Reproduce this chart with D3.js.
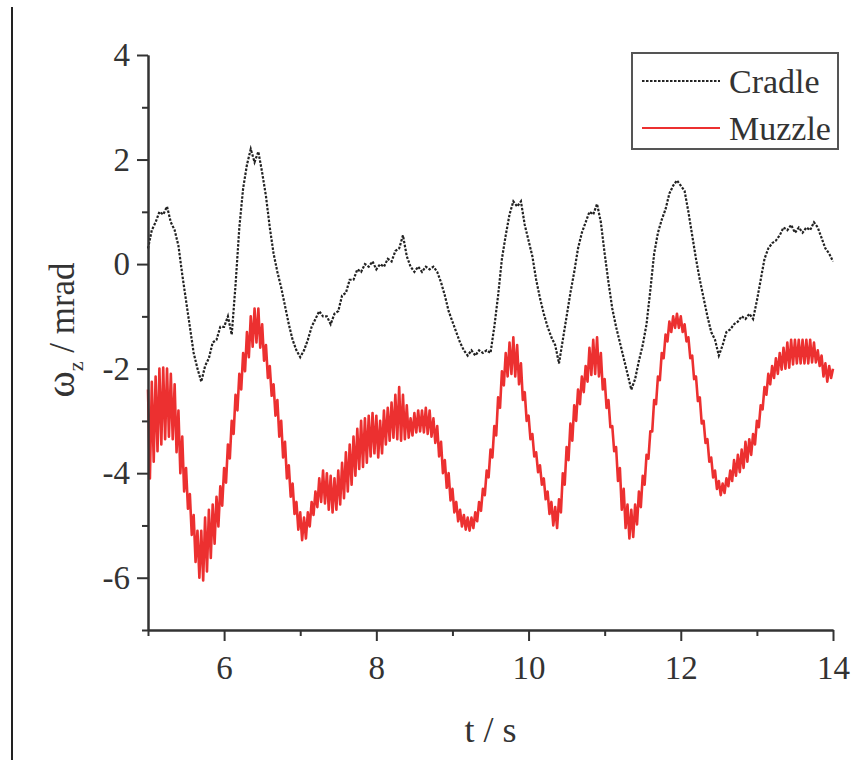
<!DOCTYPE html>
<html>
<head>
<meta charset="utf-8">
<script src="https://cdn.jsdelivr.net/npm/d3@7/dist/d3.min.js"></script>
<style>
  html, body { margin: 0; padding: 0; background: #fff; }
  svg text { font-family: "Liberation Serif", "Times New Roman", serif; fill: #333; }
</style>
</head>
<body>
<div id="chart"></div>
<script>
// Cradle: one value per 0.05 s from 5.00 to 14.00
const cradleStart = 5;
const cradleStep = 0.05;
const cradle = [
  0.3, 0.65, 0.8, 1.0, 0.95, 1.1, 0.8, 0.65, 0.35, -0.2,
  -0.7, -1.2, -1.7, -2.0, -2.25, -1.95, -1.8, -1.5, -1.45, -1.2,
  -1.2, -1.0, -1.35, -0.4, 0.7, 1.45, 1.9, 2.2, 1.95, 2.15,
  1.75, 1.3, 0.7, 0.2, -0.15, -0.45, -0.8, -1.15, -1.45, -1.65,
  -1.78, -1.65, -1.45, -1.2, -1.05, -0.9, -1.0, -1.0, -1.15, -0.95,
  -0.9, -0.6, -0.55, -0.3, -0.3, -0.1, -0.15, 0.0, -0.05, 0.05,
  -0.1, 0.0, -0.05, 0.1, 0.05, 0.25, 0.3, 0.55, 0.15, -0.05,
  -0.15, -0.05, -0.15, -0.05, -0.1, -0.05, -0.15, -0.35, -0.6, -0.9,
  -1.1, -1.3, -1.5, -1.65, -1.75, -1.65, -1.75, -1.65, -1.7, -1.65,
  -1.7, -1.2, -0.6, 0.1, 0.55, 0.95, 1.2, 1.1, 1.2, 0.75,
  0.45, 0.15, -0.3, -0.65, -0.95, -1.2, -1.4, -1.55, -1.9, -1.45,
  -1.0, -0.55, -0.15, 0.3, 0.6, 0.8, 1.0, 0.95, 1.15, 0.8,
  0.2, -0.35, -0.85, -1.2, -1.5, -1.8, -2.1, -2.4, -2.2, -1.85,
  -1.55, -1.15, -0.5, 0.2, 0.6, 0.85, 1.05, 1.35, 1.5, 1.6,
  1.5, 1.4, 1.0, 0.55, 0.1, -0.3, -0.65, -1.0, -1.3, -1.45,
  -1.75, -1.55, -1.3, -1.25, -1.15, -1.1, -1.0, -1.05, -0.95, -1.05,
  -0.7, -0.3, 0.1, 0.3, 0.4, 0.45, 0.55, 0.7, 0.65, 0.75,
  0.6, 0.7, 0.6, 0.7, 0.65, 0.8, 0.7, 0.5, 0.3, 0.2,
  0.05
];

// Muzzle: one value per 0.025 s from 5.000 to 14.000,
// swinging between the top and the bottom of the vibration band
const muzzleStart = 5;
const muzzleStep = 0.025;
const muzzle = [
  -2.4, -4.1, -2.25, -3.78, -2.15, -3.58, -2.0, -3.45, -1.98, -3.35, -2.0, -3.3, -2.1, -3.35, -2.3, -3.6, -2.8, -4.0, -3.3, -4.35,
  -3.9, -4.68, -4.4, -5.18, -4.8, -5.7, -5.1, -6.0, -5.1, -6.05, -4.85, -5.88, -4.7, -5.62, -4.6, -5.35, -4.45, -5.02, -4.25, -4.62,
  -3.9, -4.18, -3.45, -3.72, -3.0, -3.25, -2.5, -2.8, -2.1, -2.4, -1.7, -2.05, -1.3, -1.78, -1.0, -1.58, -0.85, -1.5, -0.85, -1.6,
  -1.15, -1.85, -1.55, -2.18, -1.95, -2.52, -2.3, -2.9, -2.6, -3.3, -3.0, -3.7, -3.4, -4.1, -3.85, -4.45, -4.2, -4.78, -4.55, -5.08,
  -4.75, -5.28, -4.85, -5.25, -4.75, -5.02, -4.55, -4.8, -4.35, -4.65, -4.1, -4.55, -3.95, -4.58, -4.0, -4.7, -4.05, -4.75, -4.1, -4.7,
  -3.95, -4.6, -3.8, -4.48, -3.6, -4.35, -3.45, -4.22, -3.3, -4.05, -3.15, -3.92, -3.0, -3.88, -2.95, -3.8, -2.9, -3.68, -2.85, -3.62,
  -2.9, -3.7, -3.0, -3.62, -2.8, -3.45, -2.75, -3.38, -2.65, -3.32, -2.5, -3.35, -2.35, -3.38, -2.5, -3.35, -2.7, -3.32, -2.95, -3.28,
  -2.85, -3.22, -2.8, -3.2, -2.8, -3.22, -2.75, -3.25, -2.8, -3.3, -2.95, -3.42, -3.1, -3.68, -3.4, -4.0, -3.75, -4.28, -4.0, -4.52,
  -4.3, -4.75, -4.55, -4.92, -4.7, -5.02, -4.8, -5.08, -4.85, -5.1, -4.85, -5.05, -4.75, -4.92, -4.55, -4.72, -4.3, -4.42, -3.95, -4.08,
  -3.55, -3.7, -3.1, -3.28, -2.55, -2.75, -2.05, -2.32, -1.7, -2.15, -1.5, -2.1, -1.4, -2.15, -1.55, -2.3, -1.9, -2.6, -2.45, -3.0,
  -2.9, -3.35, -3.25, -3.68, -3.6, -3.98, -3.85, -4.22, -4.1, -4.5, -4.35, -4.78, -4.55, -5.0, -4.65, -5.05, -4.5, -4.75, -4.0, -4.22,
  -3.5, -3.75, -3.05, -3.38, -2.7, -3.0, -2.4, -2.68, -2.15, -2.45, -1.95, -2.25, -1.6, -2.12, -1.45, -2.1, -1.4, -2.15, -1.7, -2.4,
  -2.2, -2.75, -2.6, -3.12, -3.1, -3.58, -3.5, -4.15, -3.9, -4.7, -4.3, -5.05, -4.6, -5.25, -4.7, -5.22, -4.6, -4.98, -4.35, -4.65,
  -4.05, -4.22, -3.65, -3.72, -3.2, -3.2, -2.6, -2.68, -2.15, -2.22, -1.7, -1.8, -1.35, -1.48, -1.1, -1.3, -1.0, -1.22, -0.95, -1.22,
  -1.0, -1.3, -1.15, -1.48, -1.4, -1.8, -1.75, -2.2, -2.15, -2.62, -2.55, -3.05, -3.0, -3.42, -3.35, -3.78, -3.7, -4.08, -3.95, -4.3,
  -4.15, -4.42, -4.2, -4.38, -4.1, -4.25, -3.95, -4.15, -3.75, -4.05, -3.65, -3.98, -3.55, -3.9, -3.4, -3.78, -3.35, -3.65, -3.25, -3.45,
  -3.0, -3.12, -2.7, -2.78, -2.35, -2.5, -2.1, -2.3, -1.95, -2.18, -1.8, -2.1, -1.7, -2.02, -1.6, -2.0, -1.5, -1.98, -1.45, -1.92,
  -1.45, -1.9, -1.45, -1.9, -1.45, -1.9, -1.45, -1.9, -1.45, -1.88, -1.5, -1.88, -1.65, -1.95, -1.75, -2.15, -1.9, -2.25, -1.95, -2.18,
  -2.0
];

const xTicksMajor = [6, 8, 10, 12, 14];
const xTicksMinor = [5, 7, 9, 11, 13];
const yTicksMajor = [4, 2, 0, -2, -4, -6];
const yTicksMinor = [3, 1, -1, -3, -5, -7];
const seriesNames = ["Cradle", "Muzzle"];

const width = 852, height = 760;
const settings = {
  left: 148, right: 833, top: 55, bottom: 630,
};
const red = "#ec3030";
const ink = "#333";

const svg = d3.select("#chart").append("svg")
  .attr("width", width)
  .attr("height", height);

// border line at the very left of the figure
svg.append("line")
  .attr("x1", 12).attr("x2", 12)
  .attr("y1", 7).attr("y2", height)
  .attr("stroke", "#222").attr("stroke-width", 2);

const xScale = d3.scaleLinear().domain([5, 14]).range([settings.left, settings.right]);
const yScale = d3.scaleLinear().domain([-7, 4]).range([settings.bottom, settings.top]);

const toPoints = (arr, start, step) => arr.map((v, i) => ({ t: start + i * step, v: v }));

const line = d3.line()
  .x(d => xScale(d.t))
  .y(d => yScale(d.v));

// Muzzle
svg.append("path")
  .datum(toPoints(muzzle, muzzleStart, muzzleStep))
  .attr("fill", "none")
  .attr("stroke", red)
  .attr("stroke-width", 2.6)
  .attr("stroke-linejoin", "round")
  .attr("d", line);

// Cradle
svg.append("path")
  .datum(toPoints(cradle, cradleStart, cradleStep))
  .attr("fill", "none")
  .attr("stroke", "#222")
  .attr("stroke-width", 2.2)
  .attr("stroke-dasharray", "2.5,1.5")
  .attr("d", line);

// axes
const styleAxis = (g) => {
  g.select(".domain").attr("stroke", ink).attr("stroke-width", 2);
  g.selectAll(".tick line").attr("stroke", ink).attr("stroke-width", 2);
  g.selectAll(".tick text")
    .attr("font-size", "33px")
    .attr("fill", ink)
    .attr("font-family", "Liberation Serif");
};

svg.append("g")
  .attr("transform", `translate(0,${settings.bottom})`)
  .call(d3.axisBottom(xScale).tickValues(xTicksMinor).tickSize(6).tickFormat("").tickSizeOuter(0))
  .call(styleAxis);

svg.append("g")
  .attr("transform", `translate(0,${settings.bottom})`)
  .call(d3.axisBottom(xScale).tickValues(xTicksMajor).tickSize(11).tickPadding(15)
    .tickFormat(d => String(d)).tickSizeOuter(0))
  .call(styleAxis);

svg.append("g")
  .attr("transform", `translate(${settings.left},0)`)
  .call(d3.axisLeft(yScale).tickValues(yTicksMinor).tickSize(6).tickFormat("").tickSizeOuter(0))
  .call(styleAxis);

svg.append("g")
  .attr("transform", `translate(${settings.left},0)`)
  .call(d3.axisLeft(yScale).tickValues(yTicksMajor).tickSize(11).tickPadding(7)
    .tickFormat(d => String(d)).tickSizeOuter(0))
  .call(styleAxis);

// axis titles
svg.append("text")
  .attr("x", (settings.left + settings.right) / 2)
  .attr("y", 742)
  .attr("text-anchor", "middle")
  .attr("font-size", "36px")
  .text("t / s");

const yTitle = svg.append("text")
  .attr("transform", "translate(74,330) rotate(-90)")
  .attr("text-anchor", "middle")
  .attr("font-size", "35px");
yTitle.append("tspan").attr("font-size", "40px").text("ω");
yTitle.append("tspan").attr("font-size", "22px").attr("dy", 9).text("z");
yTitle.append("tspan").attr("dy", -9).text(" / mrad");

// legend
const legend = svg.append("g");
legend.append("rect")
  .attr("x", 632).attr("y", 53)
  .attr("width", 206).attr("height", 96)
  .attr("fill", "#fff")
  .attr("stroke", "#555").attr("stroke-width", 2);

const legendRows = [
  { name: seriesNames[0], y: 81, color: "#222", dash: "2.5,1.5" },
  { name: seriesNames[1], y: 128, color: red, dash: null },
];

legendRows.forEach(r => {
  legend.append("line")
    .attr("x1", 642).attr("x2", 720)
    .attr("y1", r.y).attr("y2", r.y)
    .attr("stroke", r.color)
    .attr("stroke-width", 2)
    .attr("stroke-dasharray", r.dash);
  legend.append("text")
    .attr("x", 729).attr("y", r.y + 12)
    .attr("font-size", "34px")
    .text(r.name);
});
</script>
</body>
</html>
